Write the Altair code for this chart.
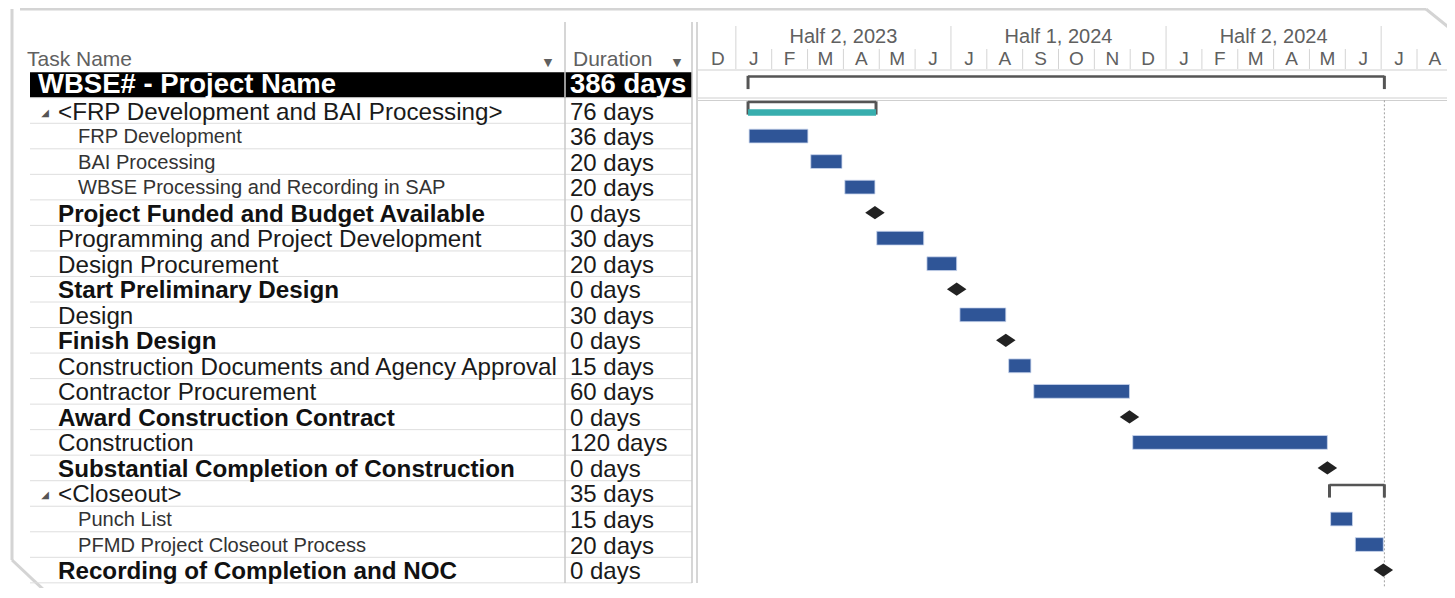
import altair as alt
import pandas as pd

# ---------------- data ----------------
tasks = [
    "WBSE# - Project Name",
    "<FRP Development and BAI Processing>",
    "FRP Development",
    "BAI Processing",
    "WBSE Processing and Recording in SAP",
    "Project Funded and Budget Available",
    "Programming and Project Development",
    "Design Procurement",
    "Start Preliminary Design",
    "Design",
    "Finish Design",
    "Construction Documents and Agency Approval",
    "Contractor Procurement",
    "Award Construction Contract",
    "Construction",
    "Substantial Completion of Construction",
    "<Closeout>",
    "Punch List",
    "PFMD Project Closeout Process",
    "Recording of Completion and NOC",
]
durations = [
    "386 days", "76 days", "36 days", "20 days", "20 days", "0 days",
    "30 days", "20 days", "0 days", "30 days", "0 days", "15 days",
    "60 days", "0 days", "120 days", "0 days", "35 days", "15 days",
    "20 days", "0 days",
]
levels = [0, 1, 2, 2, 2, 1, 1, 1, 1, 1, 1, 1, 1, 1, 1, 1, 1, 2, 2, 1]
kinds = [
    "project", "summary", "task", "task", "task", "milestone",
    "task", "task", "milestone", "task", "milestone", "task",
    "task", "milestone", "task", "milestone", "summary", "task",
    "task", "milestone",
]
# start / finish in timescale months (0 = start of the first "D" column)
starts = [1.34, 1.34, 1.37, 3.09, 4.04, 4.88, 4.93, 6.33, 7.16, 7.25,
          8.53, 8.61, 9.31, 11.98, 12.07, 17.50, 17.56, 17.59, 18.28, 19.06]
ends = [19.09, 4.91, 3.01, 3.96, 4.88, 4.88, 6.24, 7.16, 7.16, 8.53,
        8.53, 9.23, 11.98, 11.98, 17.50, 17.50, 19.09, 18.20, 19.06, 19.06]

month_letters = ["D", "J", "F", "M", "A", "M", "J", "J", "A", "S", "O",
                 "N", "D", "J", "F", "M", "A", "M", "J", "J", "A"]
half_labels = ["Half 2, 2023", "Half 1, 2024", "Half 2, 2024"]
half_starts = [1, 7, 13]

# ---------------- tables ----------------
df = pd.DataFrame({
    "row": list(range(len(tasks))),
    "task": tasks,
    "dur": durations,
    "level": levels,
    "kind": kinds,
    "start": starts,
    "end": ends,
})


def style_of(r):
    if r["kind"] == "project":
        return "project"
    if r["kind"] == "summary":
        return "summary"
    if r["kind"] == "milestone":
        return "milestone"
    if r["level"] == 2:
        return "sub"
    return "task"


df["style"] = df.apply(style_of, axis=1)

months_df = pd.DataFrame({"k": list(range(len(month_letters))), "m": month_letters})
halves_df = pd.DataFrame({"h": half_labels, "s": half_starts})

# bracket ends for summary rows
sums = df[df["kind"].isin(["project", "summary"])]
ends_df = pd.concat([
    sums[["row", "kind", "start"]].rename(columns={"start": "pos"}),
    sums[["row", "kind", "end"]].rename(columns={"end": "pos"}),
])

FONT = "Liberation Sans"
XS = alt.Scale(domain=[0, 21], range=[692, 692 + 35.85 * 21])
YS = alt.Scale(domain=[0, 19], range=[77, 77 + 25.53 * 19])
NOAX = None

W, H = 1439, 580


def X(f):
    return alt.X(f, scale=XS, axis=NOAX)


def Y(f):
    return alt.Y(f, scale=YS, axis=NOAX)


layers = []

# ---- frame (decoration) ----
frame = pd.DataFrame({
    "x": [12, 4, 4, 38, 1418, 1444],
    "x2": [1418, 4, 38, 1444, 1444, 1444],
    "y": [1, 1, 552, 584, 1, 22],
    "y2": [1, 552, 584, 584, 22, 584],
})
layers.append(
    alt.Chart(frame).mark_rule(color="#d4d4d4", strokeWidth=3).encode(
        x=alt.X("x:Q", scale=None, axis=None),
        x2="x2:Q",
        y=alt.Y("y:Q", scale=None, axis=None),
        y2="y2:Q",
    )
)

base = alt.Chart(df)

# ---- black project row ----
layers.append(
    base.transform_filter("datum.kind == 'project'")
    .transform_calculate(y0="datum.row - 0.5", y1="datum.row + 0.5")
    .mark_rect(color="#000000")
    .encode(x=alt.value(22), x2=alt.value(684), y=Y("y0:Q"), y2="y1:Q")
)

# ---- row separators in the table ----
layers.append(
    base.transform_calculate(ye="datum.row + 0.5")
    .mark_rule(color="#dedede", strokeWidth=1)
    .encode(x=alt.value(22), x2=alt.value(684), y=Y("ye:Q"))
)

# ---- vertical column lines ----
vlines = pd.DataFrame({"x": [557, 684, 689]})
layers.append(
    alt.Chart(vlines).mark_rule(color="#c8c8c8", strokeWidth=1.5).encode(
        x=alt.X("x:Q", scale=None, axis=None),
        y=alt.value(14),
        y2=alt.value(575),
    )
)
layers.append(
    alt.Chart(df).transform_filter("datum.row == 0").mark_rule(color="#9a9a9a", strokeWidth=1)
    .encode(x=alt.value(557), y=alt.value(64), y2=alt.value(90))
)

# ---- header texts ----
hdr = pd.DataFrame({"t": ["Task Name", "Duration"], "x": [19, 565]})
layers.append(
    alt.Chart(hdr).mark_text(align="left", baseline="middle", font=FONT, fontSize=21, color="#606060")
    .encode(x=alt.X("x:Q", scale=None, axis=None), y=alt.value(52), text="t:N")
)
arr = pd.DataFrame({"x": [540, 669]})
layers.append(
    alt.Chart(arr).mark_text(align="center", baseline="middle", font="DejaVu Sans", fontSize=11, color="#606060", text="▼")
    .encode(x=alt.X("x:Q", scale=None, axis=None), y=alt.value(55))
)

# ---- task name texts ----
text_styles = [
    ("project", 30, 27.5, "bold", "#ffffff", 0),
    ("summary", 50, 24.2, "normal", "#1a1a1a", 2),
    ("task", 50, 24.2, "normal", "#1a1a1a", 2),
    ("milestone", 50, 24.2, "bold", "#111111", 2),
    ("sub", 70, 20.1, "normal", "#333333", 1),
]
for st, xx, fs, fw, col, ddy in text_styles:
    layers.append(
        base.transform_filter(f"datum.style == '{st}'")
        .mark_text(align="left", baseline="middle", font=FONT, fontSize=fs, fontWeight=fw, color=col, dy=ddy)
        .encode(x=alt.value(xx), y=Y("row:Q"), text="task:N")
    )

# collapse triangles
layers.append(
    base.transform_filter("datum.kind == 'summary'")
    .mark_text(align="center", baseline="middle", font="DejaVu Sans", fontSize=10, color="#555555", text="◢", dy=2)
    .encode(x=alt.value(37), y=Y("row:Q"))
)

# ---- durations ----
layers.append(
    base.transform_filter("datum.kind == 'project'")
    .mark_text(align="left", baseline="middle", font=FONT, fontSize=27.5, fontWeight="bold", color="#ffffff", dy=0)
    .encode(x=alt.value(562), y=Y("row:Q"), text="dur:N")
)
layers.append(
    base.transform_filter("datum.kind != 'project'")
    .mark_text(align="left", baseline="middle", font=FONT, fontSize=24, color="#1a1a1a", dy=2)
    .encode(x=alt.value(562), y=Y("row:Q"), text="dur:N")
)

# ---- gantt header ----
mon = alt.Chart(months_df)
layers.append(
    mon.transform_calculate(c="datum.k + 0.5")
    .mark_text(align="center", baseline="middle", font=FONT, fontSize=19, color="#606060")
    .encode(x=X("c:Q"), y=alt.value(51), text="m:N")
)
layers.append(
    mon.transform_filter("datum.k > 0").mark_rule(color="#d4d4d4", strokeWidth=1)
    .encode(x=X("k:Q"), y=alt.value(41), y2=alt.value(61))
)
hal = alt.Chart(halves_df)
layers.append(
    hal.transform_calculate(c="datum.s + 3")
    .mark_text(align="center", baseline="middle", font=FONT, fontSize=20, color="#606060")
    .encode(x=X("c:Q"), y=alt.value(29), text="h:N")
)
layers.append(
    hal.transform_calculate(e="datum.s + 6")
    .mark_rule(color="#d4d4d4", strokeWidth=1)
    .encode(x=X("e:Q"), y=alt.value(18), y2=alt.value(41))
)
layers.append(
    hal.transform_filter("datum.s == 1")
    .mark_rule(color="#d4d4d4", strokeWidth=1)
    .encode(x=X("s:Q"), y=alt.value(18), y2=alt.value(41))
)
# horizontal lines in gantt
hl = pd.DataFrame({"y": [62, 90, 92.5]})
layers.append(
    alt.Chart(hl).mark_rule(color="#cfcfcf", strokeWidth=1).encode(
        x=alt.value(690), x2=alt.value(1439), y=alt.Y("y:Q", scale=None, axis=None)
    )
)

# ---- finish dotted line ----
layers.append(
    base.transform_filter("datum.kind == 'project'")
    .transform_calculate(a="0.6", b="19.7")
    .mark_rule(color="#a0a0a0", strokeWidth=1, strokeDash=[2, 2])
    .encode(x=X("end:Q"), y=Y("a:Q"), y2="b:Q")
)

# ---- summary brackets ----
layers.append(
    base.transform_filter("datum.kind == 'project' || datum.kind == 'summary'")
    .transform_calculate(t="datum.row - 0.33")
    .mark_rule(color="#555555", strokeWidth=2.5)
    .encode(x=X("start:Q"), x2="end:Q", y=Y("t:Q"))
)
layers.append(
    alt.Chart(ends_df)
    .transform_calculate(t="datum.row - 0.36", b="datum.row + 0.16")
    .mark_rule(color="#555555", strokeWidth=3)
    .encode(x=X("pos:Q"), y=Y("t:Q"), y2="b:Q")
)
# teal progress part of the FRP summary
layers.append(
    base.transform_filter("datum.kind == 'summary' && datum.row == 1")
    .transform_calculate(t="datum.row - 0.05", b="datum.row + 0.2")
    .mark_rect(color="#38aeae")
    .encode(x=X("start:Q"), x2="end:Q", y=Y("t:Q"), y2="b:Q")
)

# ---- task bars ----
layers.append(
    base.transform_filter("datum.kind == 'task'")
    .transform_calculate(t="datum.row - 0.27", b="datum.row + 0.27")
    .mark_rect(color="#2f5597", stroke="#c9d6ee", strokeWidth=0.8)
    .encode(x=X("start:Q"), x2="end:Q", y=Y("t:Q"), y2="b:Q")
)

# ---- milestones ----
layers.append(
    base.transform_filter("datum.kind == 'milestone'")
    .mark_point(shape="M -1 0 L 0 -0.68 L 1 0 L 0 0.68 Z", size=380, filled=True, opacity=1, color="#222222")
    .encode(x=X("start:Q"), y=Y("row:Q"))
)

chart = alt.layer(*layers).properties(
    width=W, height=H, padding=0, autosize=alt.AutoSizeParams(type="none"),
    background="#ffffff",
).configure_view(stroke=None)

chart.save("out.html", embed_options={"renderer": "svg", "actions": False})
